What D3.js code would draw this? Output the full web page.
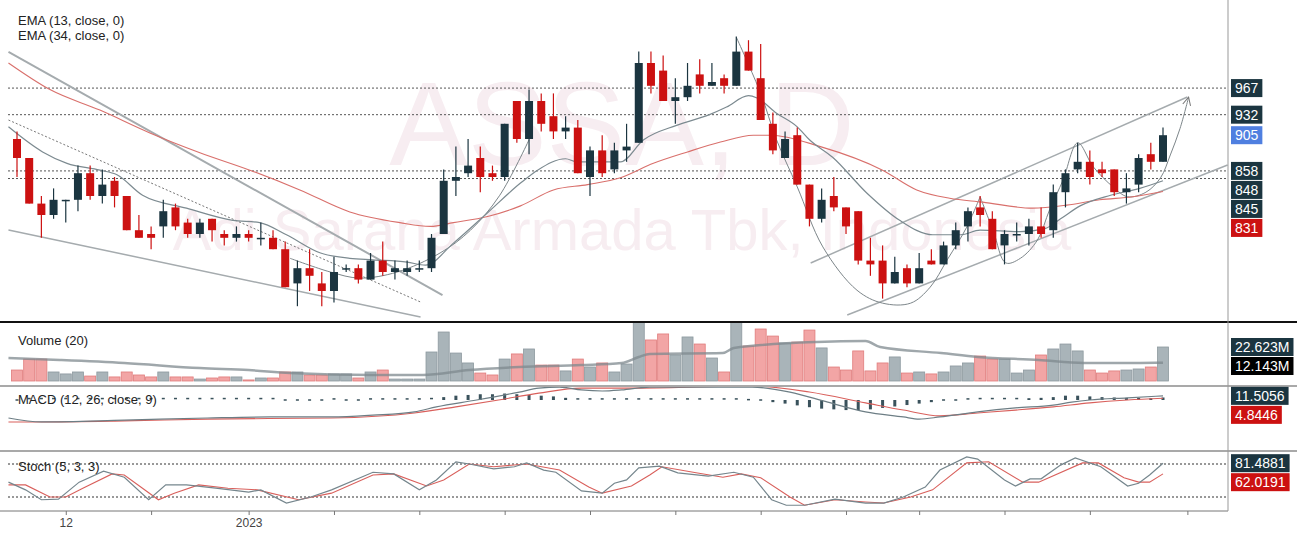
<!doctype html>
<html>
<head>
<meta charset="utf-8">
<title>ASSA, D</title>
<script src="https://cdn.jsdelivr.net/npm/d3@7"></script>
<style>
  body { margin: 0; background: #fff; }
  text { font-family: Arial, "Liberation Sans", sans-serif; }
</style>
</head>
<body>
<script>
// daily candles [open, high, low, close]
const candles = [
  [900,910,850,875],[875,875,815,815],[815,825,770,800],[800,835,795,820],[820,820,790,820],
  [820,865,805,855],[855,865,820,825],[825,860,815,840],[845,850,810,825],[825,825,780,780],
  [780,800,770,770],[775,785,755,770],[785,820,770,805],[810,815,780,785],[790,795,770,775],
  [775,795,770,790],[795,795,765,780],[775,780,760,770],[770,785,765,775],[775,780,765,770],
  [770,790,760,770],[770,780,755,755],[755,765,705,705],[710,740,680,730],[730,755,700,720],
  [710,725,680,700],[700,745,685,725],[730,735,725,730],[730,735,710,715],[715,750,715,740],
  [740,765,720,725],[725,740,715,730],[725,740,720,730],[730,740,725,730],[730,775,725,770],
  [775,860,775,845],[845,890,825,850],[855,900,850,865],[875,890,830,850],[855,865,845,850],
  [850,920,845,920],[950,950,895,900],[900,965,880,950],[950,960,910,920],[930,960,900,910],
  [910,930,900,915],[915,925,855,855],[850,890,825,885],[885,905,850,855],[860,895,855,885],
  [885,920,870,890],[895,1015,895,1000],[1000,1015,960,970],[990,1010,950,950],[950,980,920,955],
  [955,1000,950,970],[985,1005,960,970],[970,1000,970,975],[980,985,960,970],[970,1035,970,1015],
  [1015,1030,990,990],[980,1025,925,925],[920,935,880,885],[875,910,875,900],[905,915,840,840],
  [840,840,785,795],[795,835,790,820],[825,850,805,810],[810,810,775,785],[805,805,735,740],
  [740,770,720,735],[740,760,690,710],[710,745,710,725],[730,735,705,710],[710,750,710,730],
  [740,755,735,735],[735,765,735,760],[760,790,755,780],[785,810,765,805],[810,825,785,800],
  [795,805,755,755],[760,780,735,775],[775,790,765,775],[775,795,760,785],[785,810,770,775],
  [780,840,770,830],[830,860,810,855],[860,895,855,870],[870,885,840,850],[860,870,850,855],
  [860,860,825,830],[830,855,815,835],[840,880,830,875],[880,895,860,870],[870,915,870,905]
];

// volume in millions
const volumes = [
  7.3,14.6,14.6,6.0,4.7,6.0,3.3,6.0,2.7,6.0,4.0,2.7,6.0,2.7,2.7,1.3,2.0,2.7,2.7,0.7,
  2.0,2.0,6.0,6.0,4.0,4.0,4.7,4.7,2.0,6.0,7.3,1.3,1.3,1.3,19.3,32.6,18.6,12.0,5.3,4.0,
  14.6,18.0,21.3,10.6,10.6,6.7,14.6,9.3,12.0,6.0,11.3,45,27.3,31.3,17.3,29.3,24.6,15.3,6.0,50,
  23.3,34.6,29.9,25.3,25.9,33.9,22.0,9.3,7.3,20.0,6.7,12.0,16.0,5.3,6.0,4.7,6.0,10.0,12.0,16.6,
  14.6,14.6,5.3,7.3,17.3,21.3,24.6,20.0,7.3,5.3,6.7,7.3,8.0,9.3,22.623
];

// MACD histogram
const histogram = [
  0,4,4,4,4,4,4,4,4,4,4,4,4,4,4,4,4,4,4,4,4,4,0,0,0,0,3,0,0,3,
  3,3,3,3,4,8,12,14,16,16,18,16,14,12,10,6,3,3,3,3,3,3,3,3,3,3,3,3,3,3,
  1,-3,-6,-10,-15,-20,-24,-26,-28,-28,-26,-22,-18,-14,-10,-6,0,0,3,4,4,4,4,5,6,8,12,12,10,8,
  7,6,6,5,7
];

// lines as [bar index, value]
const ema13 = [
  [-0.7,916],[2.1,883],[4.1,868],[6.8,859],[8.2,853],[10.3,826],[13.9,809],[17.7,793],[19.9,790],
  [22.1,774],[24.9,750],[27.3,743],[29.2,741],[32,738],[33.5,734],[35.8,763],[38.6,803],[41.3,842],
  [42.7,859],[45,874],[45.9,870],[49.5,870],[51.4,899],[54.1,918],[56.8,932],[58.2,942],[60,957],
  [60.7,954],[62.3,934],[64,916],[65,899],[66.9,876],[69.7,829],[72.4,793],[75.1,774],[77.4,774],
  [79,780],[82.3,778],[84.3,782],[85.6,795],[87.2,812],[89.7,826],[92.1,835],[94,845]
];
const ema34 = [
  [-0.7,1000],[2.7,965],[6.8,938],[10.9,908],[15,882],[19.1,859],[23.2,833],[27.3,804],[31.4,790],
  [33.9,785],[35.8,790],[38.6,798],[41.3,812],[44,833],[46.8,840],[49.5,849],[52.2,868],[55,883],
  [57.7,896],[60.4,905],[61.8,905],[65.9,890],[71,859],[73.8,833],[76.5,822],[79.2,817],[83.3,809],
  [86.1,813],[88.8,820],[91.5,824],[94,831]
];
const volumeMa = [
  [-0.7,15.3],[3.5,14],[8.8,12],[15,8.6],[19,7.3],[22.4,5.3],[29.2,4],[33.3,4],[37.1,7.3],[41.2,9.3],
  [46.3,10.6],[49.6,12],[51,16],[51.9,18],[57.9,18.6],[58.8,22],[65.6,26],[69.6,26.6],[70.8,22.6],
  [75.8,18.6],[78.8,16],[83.8,14],[87.5,12],[92.1,12],[94,12.143]
];
const macdLine = [
  [-0.7,-50],[2,-61],[8.8,-56],[15.6,-50],[20.8,-47],[25.8,-47],[29.2,-42],[32.6,-33],[34.4,-19],
  [37.7,0],[41.2,22],[42.8,33],[44.5,36],[46.3,28],[48,25],[49.6,28],[51.9,36],[60.3,36],[63.4,22],
  [66.5,-6],[69.6,-33],[72.7,-47],[74,-53],[75.7,-47],[78.8,-33],[81.9,-22],[85,-14],[86.5,-6],
  [88,0],[91.1,6],[94,11.5056]
];
const signalLine = [
  [-0.7,-61],[2,-61],[8.8,-58],[15.6,-53],[25.8,-50],[32.6,-36],[36,-19],[39.5,0],[42.8,19],
  [46.3,33],[49.6,33],[51.1,33],[60.3,39],[65,22],[69.6,-8],[72.7,-28],[75.7,-44],[78.8,-36],
  [81.9,-28],[85,-19],[88,-8],[91.1,0],[94,4.8446]
];
const stochK = [
  [-0.7,47],[0.7,33],[2,15],[3.4,16],[5.1,47],[7.1,67],[8.8,56],[10.8,15],[12.2,42],[13.9,42],
  [16.3,36],[19,29],[20,33],[22.1,9],[24.1,20],[25.8,33],[29.2,65],[30.9,62],[33,33],[34.4,51],
  [36,84],[37.1,80],[39.1,71],[40.8,75],[41.8,82],[43.2,69],[44.2,65],[46.3,31],[48,27],[49,45],
  [50,51],[51,73],[52.7,76],[54.2,64],[56.7,58],[58.8,65],[60.4,56],[61.9,15],[63.1,5],[64.6,5],
  [67.1,16],[69.6,9],[71.1,9],[72.7,20],[74.5,38],[75.7,69],[77.9,93],[78.8,89],[81,51],[81.9,40],
  [83.1,53],[84,53],[85.6,78],[86.8,91],[88.9,75],[91.1,40],[92,45],[92.9,60],[94,81.4881]
];
const stochD = [
  [-0.7,42],[0.7,42],[2.7,20],[4,20],[5.4,36],[7.8,62],[8.8,60],[11.6,15],[12.9,27],[14.9,42],
  [17.3,36],[19.7,33],[23.1,15],[25.8,27],[29.2,60],[30.9,62],[33.6,40],[35,51],[37.1,80],[39.1,75],
  [41.8,80],[44.5,69],[46.9,38],[48,27],[50.4,40],[51.9,60],[52.9,75],[55.7,64],[57.9,56],[59.4,62],
  [61,55],[63.4,20],[64.6,5],[67.1,15],[69.6,11],[71.1,9],[73.3,20],[75.1,33],[77.9,82],[79.7,84],
  [82.5,47],[83.8,47],[87.4,82],[88.7,82],[90.8,55],[92,47],[92.9,47],[94,62.0191]
];

// horizontal levels and drawings
const levels = [967, 932, 858, 848];
const trendLines = [
  [[-0.7,1014.5],[34.9,694.7]],
  [[-0.7,780.3],[33.1,665.8]],
  [[65.1,736.8],[96,955.3]],
  [[68.1,668.4],[99.3,865.8]]
];
const dottedTrend = [[-0.7,925],[33.1,685.5]];
const leftCurve = [[22.4,743],[25.7,725],[28.1,717],[31.2,725],[34.7,750],[37.2,780],[39.6,826],[42,899]];
const uCurve = [[59,1034],[61,960],[62.3,899],[64,837],[66.1,758],[68.9,701],[71,684],[73.3,684],
  [74.9,705],[76.3,741],[77.9,784],[79,824]];
const wCurve = [[79,824],[80.1,778],[81.1,737],[82.3,743],[83.7,767],[84.7,807],[85.8,846],[87,895],
  [88.3,863],[89.9,837],[91.1,824],[92.6,830],[93.8,849],[94.6,879],[95.4,914],[96.1,955]];

const priceTicks = [700, 750, 950, 1000, 1050];
const xTicks = [4, 11, 19, 26, 33, 40, 47, 54, 61, 68, 74, 81, 88, 96];
const xTickLabels = { 4: '12', 19: '2023' };

const width = 1303, height = 533;
const axisX = 1228;

const svg = d3.select('body').append('svg')
    .attr('width', width)
    .attr('height', height);

const x = d3.scaleLinear().domain([0, 94]).range([17, 1163]);
const yPrice = d3.scaleLinear().domain([700, 1050]).range([291, 25]);
const yVol = d3.scaleLinear().domain([0, 22.623]).range([381, 347]);
const yMacd = d3.scaleLinear().domain([-100, 0]).range([436, 400]);
const yStoch = d3.scaleLinear().domain([0, 100]).range([508, 453]);

const RED = '#cc1111', DARK = '#1b3540';

// clip areas for the panes
const defs = svg.append('defs');
const panes = {
  price: [0, 322], vol: [323, 385], macd: [387, 450], stoch: [452, 511]
};
Object.entries(panes).forEach(([k, [y0, y1]]) => {
  defs.append('clipPath').attr('id', 'clip-' + k)
    .append('rect').attr('x', 8).attr('y', y0).attr('width', axisX - 8).attr('height', y1 - y0);
  defs.append('clipPath').attr('id', 'aclip-' + k)
    .append('rect').attr('x', axisX).attr('y', y0).attr('width', width - axisX).attr('height', y1 - y0);
});
defs.append('marker')
    .attr('id', 'arrow')
    .attr('markerUnits', 'userSpaceOnUse')
    .attr('markerWidth', 12).attr('markerHeight', 12)
    .attr('viewBox', '0 0 12 12')
    .attr('refX', 10).attr('refY', 6)
    .attr('orient', 'auto')
  .append('path')
    .attr('d', 'M2,2 L10,6 L2,10')
    .attr('fill', 'none')
    .attr('stroke', '#777')
    .attr('stroke-width', 1);

// watermark
svg.append('text')
    .attr('x', 622).attr('y', 165)
    .attr('text-anchor', 'middle')
    .style('font-size', '118px')
    .attr('fill', '#f7edf1')
    .text('ASSA, D');
svg.append('text')
    .attr('x', 622).attr('y', 250)
    .attr('text-anchor', 'middle')
    .style('font-size', '58px')
    .attr('fill', '#f7edf1')
    .text('Adi Sarana Armada Tbk, Indonesia');

// price pane
const price = svg.append('g').attr('clip-path', 'url(#clip-price)');

price.selectAll('line.level')
  .data(levels)
  .enter().append('line')
    .attr('x1', 8).attr('x2', axisX)
    .attr('y1', d => yPrice(d)).attr('y2', d => yPrice(d))
    .attr('stroke', '#555')
    .attr('stroke-dasharray', '2,2');

const pLine = d3.line().x(d => x(d[0])).y(d => yPrice(d[1]));
const pCurve = d3.line().x(d => x(d[0])).y(d => yPrice(d[1])).curve(d3.curveCatmullRom);

trendLines.forEach((d, i) => {
  price.append('path')
      .attr('d', pLine(d))
      .attr('fill', 'none')
      .attr('stroke', '#a5abae')
      .attr('stroke-width', i === 0 ? 2 : 1.5);
});
price.append('path')
    .attr('d', pLine(dottedTrend))
    .attr('fill', 'none')
    .attr('stroke', '#777')
    .attr('stroke-dasharray', '2,2');

[leftCurve, uCurve, wCurve].forEach((d, i) => {
  price.append('path')
      .attr('d', pCurve(d))
      .attr('fill', 'none')
      .attr('stroke', '#7d868a')
      .attr('stroke-width', 1)
      .attr('marker-end', i === 2 ? 'url(#arrow)' : null);
});

// EMAs
const emaLine = d3.line().x(d => x(d[0])).y(d => yPrice(d[1])).curve(d3.curveMonotoneX);
price.append('path').attr('d', emaLine(ema34))
    .attr('fill', 'none').attr('stroke', '#d9706c').attr('stroke-width', 1.1);
price.append('path').attr('d', emaLine(ema13))
    .attr('fill', 'none').attr('stroke', '#7c8a90').attr('stroke-width', 1.2);

// candles
const candle = price.selectAll('g.candle')
  .data(candles)
  .enter().append('g');
candle.append('line')
    .attr('x1', (d, i) => x(i)).attr('x2', (d, i) => x(i))
    .attr('y1', d => yPrice(d[1])).attr('y2', d => yPrice(d[2]))
    .attr('stroke', d => d[3] < d[0] ? RED : DARK)
    .attr('stroke-width', 1.2);
candle.append('rect')
    .attr('x', (d, i) => x(i) - 4)
    .attr('width', 8)
    .attr('y', d => yPrice(Math.max(d[0], d[3])))
    .attr('height', d => Math.max(1.5, Math.abs(yPrice(d[0]) - yPrice(d[3]))))
    .attr('fill', d => d[3] < d[0] ? RED : DARK);

// volume pane
const vol = svg.append('g').attr('clip-path', 'url(#clip-vol)');
vol.selectAll('rect')
  .data(volumes)
  .enter().append('rect')
    .attr('x', (d, i) => x(i) - 5.5)
    .attr('width', 11)
    .attr('y', d => yVol(d))
    .attr('height', d => yVol(0) - yVol(d))
    .attr('fill', (d, i) => candles[i][3] < candles[i][0] ? '#f2a5a5' : '#a9b4b9')
    .attr('stroke', (d, i) => candles[i][3] < candles[i][0] ? '#e07c7c' : '#8d999f')
    .attr('stroke-width', 0.8);
vol.append('path')
    .attr('d', d3.line().x(d => x(d[0])).y(d => yVol(d[1])).curve(d3.curveMonotoneX)(volumeMa))
    .attr('fill', 'none')
    .attr('stroke', '#7f8a8f')
    .attr('stroke-opacity', 0.75)
    .attr('stroke-width', 2.5);

// MACD pane
const macd = svg.append('g').attr('clip-path', 'url(#clip-macd)');
macd.selectAll('rect')
  .data(histogram)
  .enter().append('rect')
    .attr('x', (d, i) => x(i) - 1.5)
    .attr('width', 3)
    .attr('y', d => Math.min(yMacd(d), yMacd(0)) - (Math.abs(yMacd(d) - yMacd(0)) < 1.5 ? 0.75 : 0))
    .attr('height', d => Math.max(1.5, Math.abs(yMacd(d) - yMacd(0))))
    .attr('fill', '#3a525c');
const mLine = d3.line().x(d => x(d[0])).y(d => yMacd(d[1])).curve(d3.curveMonotoneX);
macd.append('path').attr('d', mLine(signalLine))
    .attr('fill', 'none').attr('stroke', '#d9605c').attr('stroke-width', 1.1);
macd.append('path').attr('d', mLine(macdLine))
    .attr('fill', 'none').attr('stroke', '#6d7e85').attr('stroke-width', 1.2);

// Stoch pane
const stoch = svg.append('g').attr('clip-path', 'url(#clip-stoch)');
stoch.selectAll('line.lvl')
  .data([80, 20])
  .enter().append('line')
    .attr('x1', 8).attr('x2', axisX)
    .attr('y1', d => yStoch(d)).attr('y2', d => yStoch(d))
    .attr('stroke', '#333')
    .attr('stroke-dasharray', '2,2');
const sLine = d3.line().x(d => x(d[0])).y(d => yStoch(d[1]));
stoch.append('path').attr('d', sLine(stochD))
    .attr('fill', 'none').attr('stroke', '#d9605c').attr('stroke-width', 1.1);
stoch.append('path').attr('d', sLine(stochK))
    .attr('fill', 'none').attr('stroke', '#75868d').attr('stroke-width', 1.2);

// pane borders
svg.append('line').attr('x1', 0).attr('x2', 1297).attr('y1', 322).attr('y2', 322)
    .attr('stroke', '#111').attr('stroke-width', 2);
[386, 451].forEach(y => {
  svg.append('line').attr('x1', 0).attr('x2', 1297).attr('y1', y).attr('y2', y)
      .attr('stroke', '#555').attr('stroke-width', 1.2);
});
svg.append('line').attr('x1', 0).attr('x2', axisX).attr('y1', 511).attr('y2', 511)
    .attr('stroke', '#777');
svg.append('line').attr('x1', axisX).attr('x2', axisX).attr('y1', 0).attr('y2', 511)
    .attr('stroke', '#999');

// right axes
function styleAxis(g) {
  g.select('.domain').remove();
  g.selectAll('.tick line').attr('stroke', '#999');
  g.selectAll('.tick text').attr('fill', '#7a7a7a').style('font-size', '12px');
}
svg.append('g').attr('transform', `translate(${axisX},0)`).attr('clip-path', 'url(#aclip-price)')
    .call(d3.axisRight(yPrice).tickValues(priceTicks).tickSize(4).tickPadding(4))
    .call(styleAxis);
svg.append('g').attr('transform', `translate(${axisX},0)`).attr('clip-path', 'url(#aclip-vol)')
    .call(d3.axisRight(yVol).tickValues([0]).tickFormat(d => '0').tickSize(4).tickPadding(2))
    .call(styleAxis);
svg.append('g').attr('transform', `translate(${axisX},0)`).attr('clip-path', 'url(#aclip-macd)')
    .call(d3.axisRight(yMacd).tickValues([-100]).tickFormat(d => d.toFixed(4)).tickSize(4).tickPadding(2))
    .call(styleAxis);
svg.append('g').attr('transform', `translate(${axisX},0)`).attr('clip-path', 'url(#aclip-stoch)')
    .call(d3.axisRight(yStoch).tickValues([0, 100]).tickFormat(d => d.toFixed(4)).tickSize(4).tickPadding(2))
    .call(styleAxis);

// value tags on the axis
function drawTags(items) {
  items.sort((a, b) => a.y - b.y);
  for (let i = 1; i < items.length; i++) {
    if (items[i].y - items[i - 1].y < 19) items[i].y = items[i - 1].y + 19;
  }
  items.forEach(d => {
    const g = svg.append('g').attr('transform', `translate(${axisX + 3},${d.y})`);
    const r = g.append('rect').attr('y', -9).attr('height', 18).attr('fill', d.fill);
    const t = g.append('text').attr('x', 4).attr('y', 5)
        .attr('fill', '#fff').style('font-size', '14px').text(d.text);
    r.attr('width', t.node().getComputedTextLength() + 8);
  });
}
const last = candles[candles.length - 1];
const e13 = ema13[ema13.length - 1][1], e34 = ema34[ema34.length - 1][1];
drawTags(levels.map(v => ({ y: yPrice(v), text: String(v), fill: DARK }))
  .concat([
    { y: yPrice(last[3]), text: String(last[3]), fill: '#4f7fe0' },
    { y: yPrice(e13), text: String(e13), fill: DARK },
    { y: yPrice(e34), text: String(e34), fill: RED }
  ]));
const lastVol = volumes[volumes.length - 1], lastMa = volumeMa[volumeMa.length - 1][1];
drawTags([
  { y: yVol(lastVol), text: lastVol.toFixed(3) + 'M', fill: DARK },
  { y: yVol(lastMa), text: lastMa.toFixed(3) + 'M', fill: '#000' }
]);
const lm = macdLine[macdLine.length - 1][1], ls = signalLine[signalLine.length - 1][1];
drawTags([
  { y: yMacd(lm), text: lm.toFixed(4), fill: DARK },
  { y: yMacd(ls), text: ls.toFixed(4), fill: RED }
]);
const lk = stochK[stochK.length - 1][1], ld = stochD[stochD.length - 1][1];
drawTags([
  { y: yStoch(lk), text: lk.toFixed(4), fill: DARK },
  { y: yStoch(ld), text: ld.toFixed(4), fill: RED }
]);

// bottom time axis
const xAxis = svg.append('g').attr('transform', 'translate(0,511)')
    .call(d3.axisBottom(x).tickValues(xTicks).tickFormat(d => xTickLabels[d] || '').tickSize(4).tickPadding(3));
xAxis.select('.domain').remove();
xAxis.selectAll('.tick line').attr('stroke', '#777');
xAxis.selectAll('.tick text').attr('fill', '#444').style('font-size', '12px');

// legends
const legends = [
  ['EMA (13, close, 0)', 25], ['EMA (34, close, 0)', 40],
  ['Volume (20)', 345], ['MACD (12, 26, close, 9)', 404], ['Stoch (5, 3, 3)', 471]
];
svg.selectAll('text.legend')
  .data(legends)
  .enter().append('text')
    .attr('x', 18).attr('y', d => d[1])
    .attr('fill', '#222')
    .style('font-size', '13px')
    .text(d => d[0]);
</script>
</body>
</html>
